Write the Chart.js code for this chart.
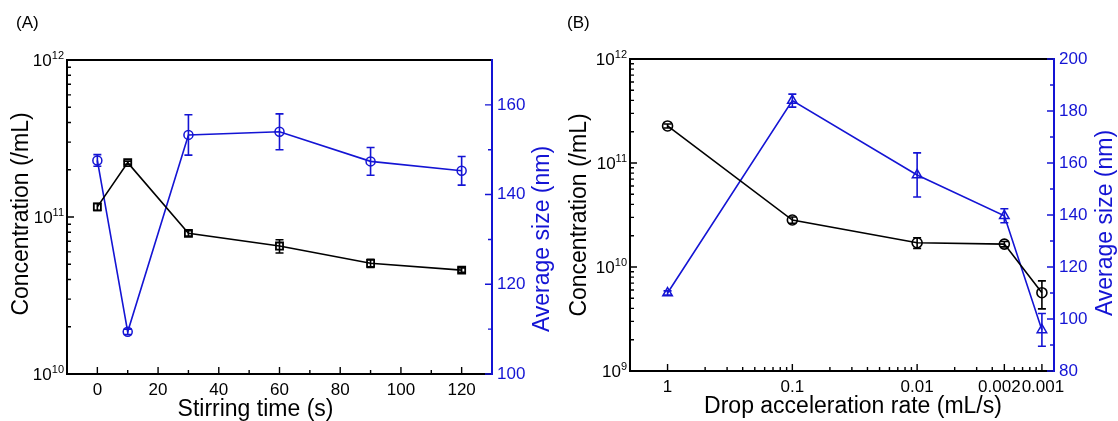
<!DOCTYPE html>
<html>
<head>
<meta charset="utf-8">
<script src="https://cdn.jsdelivr.net/npm/chart.js@4/dist/chart.umd.min.js"></script>
<style>
  html, body { margin: 0; padding: 0; background: #fff; }
  #wrap { position: relative; width: 1118px; height: 421px; }
  .panel { position: absolute; top: 0; width: 559px; height: 421px; }
</style>
</head>
<body>
<div id="wrap">
  <div class="panel" style="left:0"><canvas id="chartA"></canvas></div>
  <div class="panel" style="left:559px"><canvas id="chartB"></canvas></div>
</div>
<script>
// ---- Panel A: stirring time ----
const timeS     = [0, 10, 30, 60, 90, 120];
const concA     = [1.16e11, 2.22e11, 7.87e10, 6.53e10, 5.07e10, 4.59e10];
const concAErr  = [0.06e11, 0.05e11, 0.3e10, 0.63e10, 0.3e10, 0.15e10];
const sizeA     = [147.6, 109.4, 153.3, 154.0, 147.4, 145.3];
const sizeAErr  = [1.3, 0.6, 4.5, 4.0, 3.1, 3.2];
const timeTicks = [0, 20, 40, 60, 80, 100, 120];
const timeMinor = [10, 30, 50, 70, 90, 110];
const sizeATicks = [100, 120, 140, 160];
const sizeAMinor = [110, 130, 150];

// ---- Panel B: drop acceleration rate ----
const rateB     = [1, 0.1, 0.01, 0.002, 0.001];
const concB     = [2.27e11, 2.83e10, 1.71e10, 1.66e10, 5.66e9];
const concBErr  = [0.1e11, 0.2e10, 0.2e10, 0.1e10, 1.7e9];
const sizeB     = [110, 184, 155.4, 139.7, 95.8];
const sizeBErr  = [0.8, 2.5, 8.5, 2.7, 6.3];
const rateTicks  = [1, 0.1, 0.01, 0.002, 0.001];
const rateLabels = ['1', '0.1', '0.01', '0.002', '0.001'];
// axis is logarithmic in 1/rate, so the minor marks sit at 1/2, 1/3 ... of each decade
const rateMinor  = [1/2, 1/3, 1/4, 1/5, 1/6, 1/7, 1/8, 1/9,
                    1/20, 1/30, 1/40, 1/50, 1/60, 1/70, 1/80, 1/90,
                    1/200, 1/300, 1/400, 1/600, 1/700, 1/800, 1/900];
const sizeBTicks = [80, 100, 120, 140, 160, 180, 200];
const sizeBMinor = [90, 110, 130, 150, 170, 190];

const BLUE = '#1414d4';
const FONT = 'Arial, "Liberation Sans", Helvetica, sans-serif';
const TICK = 17;
const TITLE = 23;

// log minor ticks 2..9 for each decade
function logMinor(fromExp, toExp) {
  const out = [];
  for (let e = fromExp; e < toExp; e++) {
    for (let m = 2; m <= 9; m++) out.push(m * Math.pow(10, e));
  }
  return out;
}

function pts(xs, ys) {
  return xs.map((x, i) => ({ x: x, y: ys[i] }));
}

function drawErrors(chart) {
  const ctx = chart.ctx;
  chart.data.datasets.forEach((ds, i) => {
    if (!ds.errors) return;
    const meta = chart.getDatasetMeta(i);
    const ys = chart.scales[ds.yAxisID];
    ctx.save();
    ctx.strokeStyle = ds.borderColor;
    ctx.lineWidth = 1.6;
    meta.data.forEach((pt, j) => {
      const v = ds.data[j].y, e = ds.errors[j];
      const top = ys.getPixelForValue(v + e);
      const bot = ys.getPixelForValue(v - e);
      ctx.beginPath();
      ctx.moveTo(pt.x, top); ctx.lineTo(pt.x, bot);
      ctx.moveTo(pt.x - 4, top); ctx.lineTo(pt.x + 4, top);
      ctx.moveTo(pt.x - 4, bot); ctx.lineTo(pt.x + 4, bot);
      ctx.stroke();
    });
    ctx.restore();
  });
}

function drawPow(ctx, exp, xRight, y) {
  const baseFont = TICK + 'px ' + FONT;
  const expFont = Math.round(TICK * 0.64) + 'px ' + FONT;
  ctx.font = expFont;
  const we = ctx.measureText(exp).width;
  ctx.font = baseFont;
  const wb = ctx.measureText('10').width;
  const x0 = xRight - we - wb;
  ctx.textAlign = 'left';
  ctx.textBaseline = 'alphabetic';
  ctx.fillText('10', x0, y + TICK * 0.36);
  ctx.font = expFont;
  ctx.fillText(exp, x0 + wb, y - 1);
}

function makeDeco(c) {
  return {
    id: 'deco' + c.panel.replace(/\W/g, ''),
    afterDatasetsDraw(chart) {
      drawErrors(chart);
    },
    afterDraw(chart) {
      const ctx = chart.ctx, a = chart.chartArea;
      const sx = chart.scales.x, sy = chart.scales.y, sr = chart.scales.y1;
      ctx.save();

      // frame
      ctx.lineWidth = 2;
      ctx.strokeStyle = '#000';
      ctx.beginPath();
      ctx.moveTo(a.right, a.top); ctx.lineTo(a.left, a.top);
      ctx.lineTo(a.left, a.bottom); ctx.lineTo(a.right, a.bottom);
      ctx.stroke();
      ctx.strokeStyle = c.rColor;
      ctx.beginPath();
      ctx.moveTo(a.right, a.top - 1); ctx.lineTo(a.right, a.bottom + 1);
      ctx.stroke();

      // inward tick marks
      ctx.lineWidth = 1.4;
      const tx = (vals, len) => {
        ctx.beginPath();
        vals.forEach(v => {
          const p = sx.getPixelForValue(v);
          ctx.moveTo(p, a.bottom); ctx.lineTo(p, a.bottom - len);
        });
        ctx.stroke();
      };
      const ty = (scale, vals, x0, len) => {
        ctx.beginPath();
        vals.forEach(v => {
          const p = scale.getPixelForValue(v);
          ctx.moveTo(x0, p); ctx.lineTo(x0 + len, p);
        });
        ctx.stroke();
      };
      ctx.strokeStyle = '#000';
      tx(c.xMajor, 7); tx(c.xMinor, 4);
      ty(sy, c.yMajor, a.left, 7); ty(sy, c.yMinor, a.left, 4);
      ctx.strokeStyle = c.rColor;
      ty(sr, c.rMajor, a.right, -7); ty(sr, c.rMinor, a.right, -4);

      // tick labels
      ctx.fillStyle = '#000';
      ctx.font = TICK + 'px ' + FONT;
      ctx.textAlign = 'center';
      ctx.textBaseline = 'top';
      c.xMajor.forEach((v, i) => {
        const dx = c.xLabelDx ? c.xLabelDx[i] : 0;
        ctx.fillText(c.xLabels[i], sx.getPixelForValue(v) + dx, a.bottom + 8);
      });
      c.yMajor.forEach(v => {
        drawPow(ctx, String(Math.round(Math.log10(v))), a.left - 3, sy.getPixelForValue(v));
      });
      ctx.fillStyle = c.rColor;
      ctx.font = TICK + 'px ' + FONT;
      ctx.textAlign = 'left';
      ctx.textBaseline = 'middle';
      c.rMajor.forEach(v => {
        ctx.fillText(String(v), a.right + 5, sr.getPixelForValue(v));
      });

      // axis titles
      const midY = (a.top + a.bottom) / 2;
      ctx.font = TITLE + 'px ' + FONT;
      ctx.textAlign = 'center';
      ctx.textBaseline = 'alphabetic';
      ctx.fillStyle = '#000';
      ctx.fillText(c.xTitle, (a.left + a.right) / 2 + c.xTitleShift, a.bottom + 42);
      ctx.textBaseline = 'middle';
      ctx.save();
      ctx.translate(c.yTitleX, midY + c.yTitleShift);
      ctx.rotate(-Math.PI / 2);
      ctx.fillText(c.yTitle, 0, 0);
      ctx.restore();
      ctx.save();
      ctx.fillStyle = c.rColor;
      ctx.translate(a.right + c.rTitleOff, midY + c.rTitleShift);
      ctx.rotate(-Math.PI / 2);
      ctx.fillText(c.rTitle, 0, 0);
      ctx.restore();

      // panel letter
      ctx.fillStyle = '#000';
      ctx.font = '17px ' + FONT;
      ctx.textAlign = 'left';
      ctx.textBaseline = 'middle';
      ctx.fillText(c.panel, c.panelX, 23);
      ctx.restore();
    }
  };
}

function baseScales(o) {
  const hidden = { ticks: { display: false }, grid: { display: false }, border: { display: false } };
  return {
    x: Object.assign({ type: o.xType, min: o.xMin, max: o.xMax, reverse: !!o.xReverse,
      afterFit: s => { s.height = o.bottomH; } }, hidden),
    y: Object.assign({ type: 'logarithmic', position: 'left', min: o.yMin, max: o.yMax,
      afterFit: s => { s.width = o.leftW; } }, hidden),
    y1: Object.assign({ type: 'linear', position: 'right', min: o.rMin, max: o.rMax,
      afterFit: s => { s.width = o.rightW; } }, hidden)
  };
}

function makeChart(id, datasets, scaleOpts, deco, topPad) {
  return new Chart(document.getElementById(id), {
    type: 'line',
    data: { datasets: datasets },
    options: {
      responsive: true,
      maintainAspectRatio: false,
      animation: false,
      layout: { padding: { top: topPad, left: 0, right: 0, bottom: 0 } },
      plugins: { legend: { display: false }, tooltip: { enabled: false } },
      scales: baseScales(scaleOpts)
    },
    plugins: [makeDeco(deco)]
  });
}

makeChart('chartA', [
  {
    label: 'Concentration', data: pts(timeS, concA), yAxisID: 'y', errors: concAErr,
    borderColor: '#000', borderWidth: 1.6, tension: 0,
    pointStyle: 'rect', pointRadius: 5, pointBorderWidth: 1.8,
    pointBorderColor: '#000', pointBackgroundColor: 'rgba(0,0,0,0)'
  },
  {
    label: 'Average size', data: pts(timeS, sizeA), yAxisID: 'y1', errors: sizeAErr,
    borderColor: BLUE, borderWidth: 1.6, tension: 0,
    pointStyle: 'circle', pointRadius: 4.5, pointBorderWidth: 1.5,
    pointBorderColor: BLUE, pointBackgroundColor: 'rgba(0,0,0,0)'
  }
], {
  xType: 'linear', xMin: -10, xMax: 130,
  yMin: 1e10, yMax: 1e12, rMin: 100, rMax: 170,
  leftW: 67, rightW: 67, bottomH: 47
}, {
  panel: '(A)', panelX: 16,
  xMajor: timeTicks, xMinor: timeMinor, xLabels: timeTicks.map(String),
  yMajor: [1e10, 1e11, 1e12], yMinor: logMinor(10, 12),
  rMajor: sizeATicks, rMinor: sizeAMinor, rColor: BLUE,
  xTitle: 'Stirring time (s)', xTitleShift: -24,
  yTitle: 'Concentration (/mL)', yTitleX: 22, yTitleShift: -3,
  rTitle: 'Average size (nm)', rTitleOff: 51, rTitleShift: 22
}, 60);

makeChart('chartB', [
  {
    label: 'Concentration', data: pts(rateB, concB), yAxisID: 'y', errors: concBErr,
    borderColor: '#000', borderWidth: 1.6, tension: 0,
    pointStyle: 'circle', pointRadius: 5, pointBorderWidth: 1.6,
    pointBorderColor: '#000', pointBackgroundColor: 'rgba(0,0,0,0)'
  },
  {
    label: 'Average size', data: pts(rateB, sizeB), yAxisID: 'y1', errors: sizeBErr,
    borderColor: BLUE, borderWidth: 1.6, tension: 0,
    pointStyle: 'triangle', pointRadius: 5.5, pointBorderWidth: 1.5,
    pointBorderColor: BLUE, pointBackgroundColor: 'rgba(0,0,0,0)'
  }
], {
  xType: 'logarithmic', xMin: 0.0008, xMax: 2, xReverse: true,
  yMin: 1e9, yMax: 1e12, rMin: 80, rMax: 200,
  leftW: 71, rightW: 64, bottomH: 50
}, {
  panel: '(B)', panelX: 8,
  xMajor: rateTicks, xMinor: rateMinor, xLabels: rateLabels, xLabelDx: [0, 0, 0, -5, 1],
  yMajor: [1e9, 1e10, 1e11, 1e12], yMinor: logMinor(9, 12),
  rMajor: sizeBTicks, rMinor: sizeBMinor, rColor: BLUE,
  xTitle: 'Drop acceleration rate (mL/s)', xTitleShift: 11,
  yTitle: 'Concentration (/mL)', yTitleX: 21, yTitleShift: 0,
  rTitle: 'Average size (nm)', rTitleOff: 52, rTitleShift: 8
}, 59);
</script>
</body>
</html>
